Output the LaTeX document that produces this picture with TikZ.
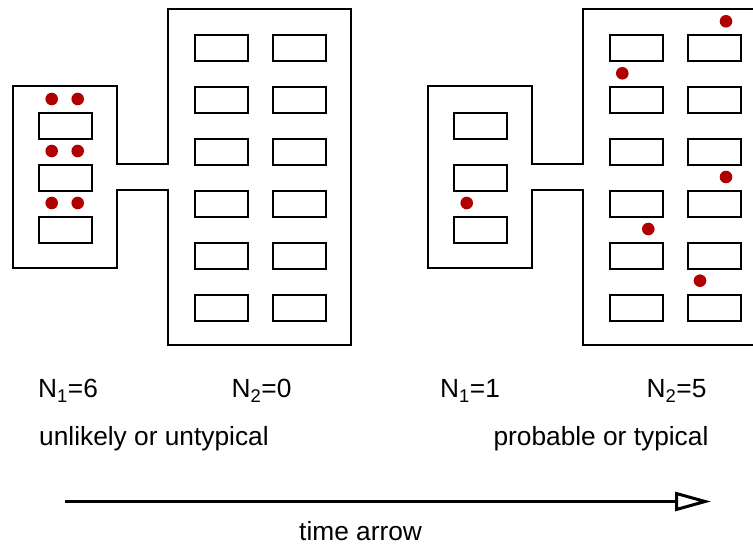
\documentclass[tikz,border=0pt]{standalone}
\usepackage{fontspec}
\setmainfont{Liberation Sans}
\usetikzlibrary{arrows.meta}
\definecolor{dotred}{RGB}{176,0,0}
\tikzset{
  wall/.style={draw=black, line width=2pt, line join=miter},
  room/.style={draw=black, line width=2pt, rectangle, minimum width=53pt, minimum height=26pt, inner sep=0pt, anchor=north west},
  ball/.style={circle, fill=dotred, draw=none, minimum size=12.6pt, inner sep=0pt},
  lbl/.style={anchor=base west, inner sep=0pt, font=\fontsize{26.3}{30}\selectfont},
}
\begin{document}
\begin{tikzpicture}[x=1pt, y=-1pt]
\useasboundingbox (0,0) rectangle (753,545);
\clip (0,0) rectangle (753,545);
% buildings
\foreach \dx/\nm in {0/L, 415/R}{
  \begin{scope}[xshift=\dx pt]
    \draw[wall] (13,86) -- (117,86) -- (117,164) -- (168,164) -- (168,9) -- (351,9)
      -- (351,345) -- (168,345) -- (168,190) -- (117,190) -- (117,268) -- (13,268) -- cycle;
    \foreach \k in {0,1,2}{
      \node[room] (\nm s\k) at (38,{112+52*\k}) {};
    }
    \foreach \k in {0,...,5}{
      \node[room] (\nm a\k) at (194,{34+52*\k}) {};
      \node[room] (\nm b\k) at (272,{34+52*\k}) {};
    }
  \end{scope}
}
% particles left
\node[ball] (p1) at (51.7,99) {};
\node[ball] (p2) at (77.7,99) {};
\node[ball] (p3) at (51.7,151) {};
\node[ball] (p4) at (77.7,151) {};
\node[ball] (p5) at (51.7,203) {};
\node[ball] (p6) at (77.7,203) {};
% particles right
\node[ball] (q1) at (466.7,203) {};
\node[ball] (q2) at (726,21.3) {};
\node[ball] (q3) at (622.3,73.3) {};
\node[ball] (q4) at (726,177) {};
\node[ball] (q5) at (648.3,229) {};
\node[ball] (q6) at (700,280.7) {};
% labels
\node[lbl] (n1l) at (38,398) {N\textsubscript{1}=6};
\node[lbl] (n2l) at (231.5,398) {N\textsubscript{2}=0};
\node[lbl] (n1r) at (440,398) {N\textsubscript{1}=1};
\node[lbl] (n2r) at (646.5,398) {N\textsubscript{2}=5};
\node[lbl] (tl) at (39,446) {unlikely or untypical};
\node[lbl] (tr) at (493.3,446) {probable or typical};
% time arrow
\coordinate (as) at (65,501.5);
\coordinate (ae) at (711,501.5);
\draw[line width=3pt, -{Triangle[open, length=36pt, width=19pt, fill=white]}] (as) -- (ae);
\node[lbl] (ta) at (299,540.5) {time arrow};
\end{tikzpicture}
\end{document}
